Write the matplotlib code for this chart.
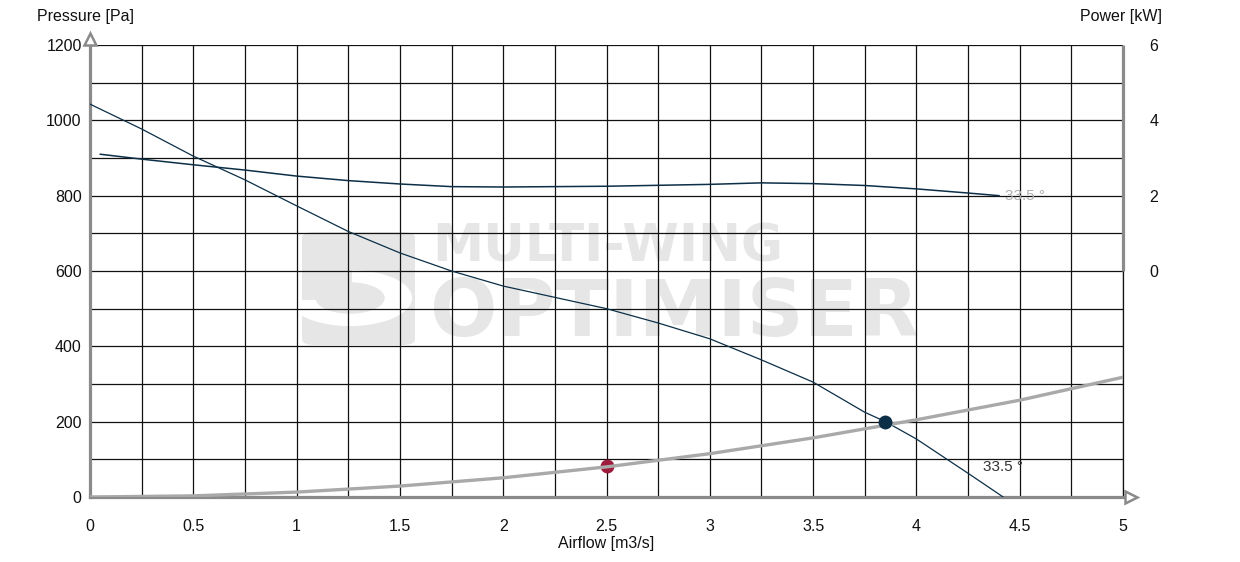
import matplotlib
matplotlib.use("Agg")
import matplotlib.pyplot as plt
import matplotlib.transforms as mtransforms
from matplotlib.patches import FancyBboxPatch, Circle, Rectangle

plt.rcParams['font.family'] = ['Liberation Sans', 'DejaVu Sans']

# fan pressure curve (33.5 deg blade angle)
flow_p = [0, 0.25, 0.5, 0.75, 1.0, 1.25, 1.5, 1.75, 2.0, 2.25, 2.5, 2.75,
          3.0, 3.25, 3.5, 3.75, 3.85, 4.0, 4.25, 4.42]
pressure = [1043, 977, 905, 842, 773, 705, 648, 600, 560, 530, 500, 462,
            420, 364, 305, 225, 200, 154, 63, 0]

# shaft power curve [kW]
flow_w = [0.05, 0.25, 0.5, 0.75, 1.0, 1.25, 1.5, 1.75, 2.0, 2.5, 3.0, 3.25,
          3.5, 3.75, 4.0, 4.25, 4.4]
power = [3.10, 2.97, 2.82, 2.68, 2.52, 2.40, 2.31, 2.24, 2.23, 2.25, 2.30,
         2.34, 2.32, 2.27, 2.18, 2.07, 2.0]

# system resistance curve
flow_s = [0, 0.5, 1.0, 1.5, 2.0, 2.5, 3.0, 3.5, 4.0, 4.5, 5.0]
system = [0, 3, 13, 29, 51, 80, 115, 157, 205, 257, 318]

duty_point = (2.5, 82)
oper_point = (3.85, 200)
angle_label = "33.5 °"

x_ticks = [0, 0.5, 1, 1.5, 2, 2.5, 3, 3.5, 4, 4.5, 5]
x_ticklabels = ["0", "0.5", "1", "1.5", "2", "2.5", "3", "3.5", "4", "4.5", "5"]
p_ticks = [0, 200, 400, 600, 800, 1000, 1200]
w_ticks = [0, 2, 4, 6]

navy = "#0c2f47"
grey_axis = "#8a8a8a"
wm = "#e6e6e6"

fig = plt.figure(figsize=(12.4, 5.62), dpi=100)
ax = fig.add_axes([90 / 1240, 65 / 562, 1033 / 1240, 452 / 562])
ax.set_xlim(0, 5)
ax.set_ylim(0, 1200)
ax.set_axisbelow('line')
ax.patch.set_alpha(0)

# watermark, kept under the grid
fig.patches.append(FancyBboxPatch((302 / 1240, 1 - 345 / 562), 113 / 1240, 113 / 562,
                                  boxstyle="round,pad=0,rounding_size=0.01",
                                  transform=fig.transFigure, fc=wm, ec="none", zorder=-3))
fig.patches.append(Circle((350 / 1240, 1 - 298 / 562), 0.05, transform=fig.transFigure,
                          fc="white", ec="none", zorder=-2))
fig.patches.append(Circle((350 / 1240, 1 - 298 / 562), 0.028, transform=fig.transFigure,
                          fc=wm, ec="none", zorder=-2))
fig.patches.append(Rectangle((302 / 1240, 1 - 300 / 562), 50 / 1240, 30 / 562,
                             transform=fig.transFigure, fc=wm, ec="none", zorder=-2))
fig.text(432 / 1240, 1 - 247 / 562, "MULTI-WING", fontsize=37, fontweight="bold",
         color=wm, va="center", ha="left", family="DejaVu Sans", zorder=-2)
fig.text(430 / 1240, 1 - 314 / 562, "OPTIMISER", fontsize=57, fontweight="bold",
         color=wm, va="center", ha="left", family="DejaVu Sans", zorder=-2)

ax.set_xticks(x_ticks)
ax.set_xticklabels(x_ticklabels)
ax.set_xticks([v + 0.25 for v in x_ticks[:-1]], minor=True)
ax.set_yticks(p_ticks)
ax.set_yticks([v + 100 for v in p_ticks[:-1]], minor=True)
ax.grid(True, which="both", color="#111111", linewidth=0.9)
ax.tick_params(which="both", length=0)
ax.tick_params(axis="x", pad=16, labelsize=11.5, colors="#111111")
ax.tick_params(axis="y", pad=6, labelsize=11.5, colors="#111111")
ax.set_xlabel("Airflow [m3/s]", fontsize=11.5, labelpad=1, color="#111111")

for s in ["top", "right"]:
    ax.spines[s].set_visible(False)
for s in ["left", "bottom"]:
    ax.spines[s].set_color(grey_axis)
    ax.spines[s].set_linewidth(2.3)

# right edge: thin black below, grey power axis above
ax.plot([5, 5], [0, 600], color="#111111", lw=0.9, clip_on=False, zorder=1.6)
ax.plot([5, 5], [600, 1200], color=grey_axis, lw=2.3, clip_on=False, zorder=3,
        solid_capstyle="butt")

# axis arrow heads
tr_up = mtransforms.offset_copy(ax.transData, fig=fig, x=0, y=6, units="dots")
ax.plot([0], [1200], marker="^", ms=9, mfc="white", mec=grey_axis, mew=1.8,
        transform=tr_up, clip_on=False, zorder=4)
tr_rt = mtransforms.offset_copy(ax.transData, fig=fig, x=8, y=0, units="dots")
ax.plot([5], [0], marker=">", ms=9, mfc="white", mec=grey_axis, mew=1.8,
        transform=tr_rt, clip_on=False, zorder=4)

# curves
ax.plot(flow_p, pressure, color=navy, lw=0.9, zorder=3)
ax.plot(*duty_point, marker="o", ms=10, color="#9e1b3b", mec="none", zorder=3)
ax.plot(flow_s, system, color="#a9a9a9", lw=2.4, zorder=3.5)
ax.plot(*oper_point, marker="o", ms=10, color=navy, mec="none", zorder=4)
ax.text(4.42, 80, angle_label, fontsize=11, color="#333333", ha="center", va="center")

ax2 = ax.twinx()
ax2.set_ylim(-6, 6)
ax2.set_yticks(w_ticks)
ax2.tick_params(length=0, pad=19, labelsize=11.5, colors="#111111")
for s in ax2.spines.values():
    s.set_visible(False)
ax2.plot(flow_w, power, color=navy, lw=1.1)
ax2.text(4.43, 2.0, angle_label, fontsize=11, color="#b0b0b0", ha="left", va="center")

fig.text(37 / 1240, 1 - 16 / 562, "Pressure [Pa]", fontsize=11.5, va="center",
         ha="left", color="#111111")
fig.text(1080 / 1240, 1 - 16 / 562, "Power [kW]", fontsize=11.5, va="center",
         ha="left", color="#111111")

fig.savefig("out.png", dpi=100)
